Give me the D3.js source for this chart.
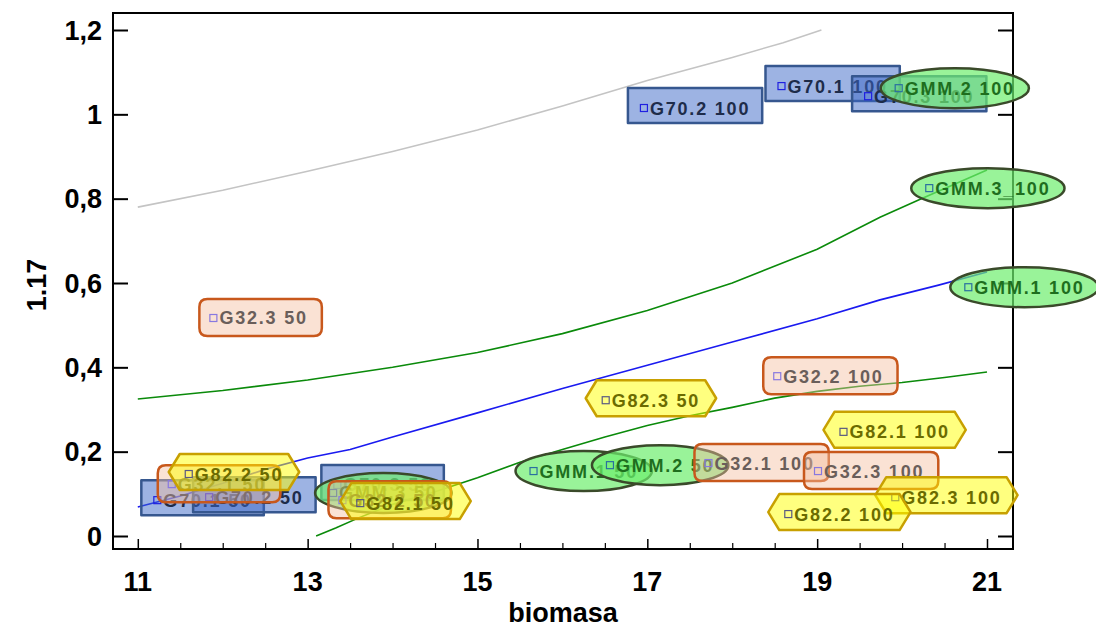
<!DOCTYPE html>
<html>
<head>
<meta charset="utf-8">
<script src="https://cdn.jsdelivr.net/npm/d3@7"></script>
<style>
body { margin: 0; background: #fff; }
svg { display: block; }
</style>
</head>
<body>
<div id="chart"></div>
<script>
"use strict";

// axis ticks
var xTicks = [11, 13, 15, 17, 19, 21];
var xMinor = [11.5, 12, 12.5, 13.5, 14, 14.5, 15.5, 16, 16.5, 17.5, 18, 18.5, 19.5, 20, 20.5];
var yTicks = [0, 0.2, 0.4, 0.6, 0.8, 1, 1.2];
var yTickLabels = ["0", "0,2", "0,4", "0,6", "0,8", "1", "1,2"];

// curves
var grayLine = [[11, 0.78], [12, 0.82], [13, 0.865], [14, 0.912], [15, 0.963], [16, 1.02],
                [17, 1.08], [18, 1.135], [18.6, 1.17], [19.05, 1.2]];
var greenUpper = [[11, 0.325], [12, 0.345], [13, 0.37], [14, 0.4], [15, 0.435], [16, 0.48],
                  [17, 0.535], [18, 0.6], [19, 0.68], [19.74, 0.756], [20.24, 0.801], [21, 0.868]];
var blueLine = [[11, 0.069], [11.5, 0.095], [12, 0.125], [12.5, 0.158], [13, 0.185], [13.5, 0.205],
                [14, 0.235], [15, 0.292], [16, 0.35], [17, 0.405], [18, 0.46], [19, 0.515],
                [19.74, 0.56], [20.43, 0.595], [21, 0.626]];
var greenLower = [[13.1, 0], [13.33, 0.019], [13.6, 0.043], [14, 0.075], [14.5, 0.105], [15, 0.138],
                  [15.5, 0.175], [16, 0.205], [16.5, 0.235], [17, 0.262], [17.5, 0.285], [18, 0.305],
                  [18.5, 0.327], [19, 0.343], [19.5, 0.355], [20, 0.364], [20.5, 0.376], [21, 0.389]];

// labelled points
var pointNames = ["G70.1 50", "G70.2 50", "G70.3 50", "G70.2 100", "G70.1 100", "G70.3 100",
                  "GMM.3 50", "GMM.1 50", "GMM.2 50", "GMM.2 100", "GMM.3_100", "GMM.1 100",
                  "G32.1 50", "G32.2 50", "G32.3 50", "G32.2 100", "G32.1 100", "G32.3 100",
                  "G82.2 50", "G82.1 50", "G82.3 50", "G82.1 100", "G82.3 100", "G82.2 100"];
var pointX = [11.23, 11.84, 13.35, 16.96, 18.58, 19.6,
              13.3, 15.66, 16.56, 19.96, 20.32, 20.78,
              11.4, 13.41, 11.89, 18.53, 17.72, 19.01,
              11.6, 13.62, 16.51, 19.31, 19.92, 18.66];
var pointY = [0.085, 0.092, 0.121, 1.015, 1.067, 1.043,
              0.102, 0.154, 0.168, 1.062, 0.825, 0.59,
              0.123, 0.085, 0.517, 0.379, 0.173, 0.154,
              0.147, 0.078, 0.322, 0.247, 0.092, 0.052];
var pointGroup = ["G70", "G70", "G70", "G70", "G70", "G70",
                  "GMM", "GMM", "GMM", "GMM", "GMM", "GMM",
                  "G32", "G32", "G32", "G32", "G32", "G32",
                  "G82", "G82", "G82", "G82", "G82", "G82"];

var width = 1096, height = 628;
var box = {left: 113, right: 1013, top: 13, bottom: 549};

var x = d3.scaleLinear().domain([11, 21]).range([137.8, 987]);
var y = d3.scaleLinear().domain([0, 1.2]).range([536, 30]);

var FONT = "'Liberation Sans', Arial, sans-serif";

var styles = {
    G70: {fill: "rgba(59,103,199,0.5)", stroke: "#36578f", text: "#1e2c4a", mark: "#2020e0"},
    GMM: {fill: "rgba(110,238,110,0.7)", stroke: "#3a4a2a", text: "#1e6e1e", mark: "#2a6fa0"},
    G32: {fill: "rgba(245,190,160,0.45)", stroke: "#c8581c", text: "#6a5e5a", mark: "#8878e0"},
    G82: {fill: "rgba(255,255,0,0.5)", stroke: "#c8a000", text: "#6b6b00", mark: "#5a5a80"}
};

var svg = d3.select("#chart").append("svg")
    .attr("width", width)
    .attr("height", height);

svg.append("rect").attr("width", width).attr("height", height).attr("fill", "#fff");

// curves
var line = d3.line().x(function(d){ return x(d[0]); }).y(function(d){ return y(d[1]); });
[[grayLine, "#c4c4c4"], [greenUpper, "#0a8a0a"], [blueLine, "#1a1af0"], [greenLower, "#0a8a0a"]]
    .forEach(function(c){
        svg.append("path").datum(c[0])
            .attr("d", line)
            .attr("fill", "none")
            .attr("stroke", c[1])
            .attr("stroke-width", 1.6);
    });

// frame
svg.append("rect")
    .attr("x", box.left).attr("y", box.top)
    .attr("width", box.right - box.left).attr("height", box.bottom - box.top)
    .attr("fill", "none").attr("stroke", "#000").attr("stroke-width", 2);

// y ticks (inside, both sides)
var yAxisL = d3.axisRight(y).tickValues(yTicks).tickSize(15).tickFormat("");
svg.append("g").attr("transform", "translate(" + box.left + ",0)").call(yAxisL)
    .call(function(g){ g.select(".domain").remove(); });
var yAxisR = d3.axisLeft(y).tickValues(yTicks).tickSize(15).tickFormat("");
svg.append("g").attr("transform", "translate(" + box.right + ",0)").call(yAxisR)
    .call(function(g){ g.select(".domain").remove(); });
svg.selectAll("g.tick line").attr("stroke-width", 2);

// y tick labels
svg.append("g").selectAll("text").data(yTicks).join("text")
    .attr("x", 102)
    .attr("y", function(d){ return y(d) + 9.5; })
    .attr("text-anchor", "end")
    .attr("font-family", FONT).attr("font-weight", "bold").attr("font-size", 27)
    .text(function(d, i){ return yTickLabels[i]; });

// x ticks (inside, bottom)
var xAxisMaj = d3.axisTop(x).tickValues(xTicks).tickSize(10).tickFormat("");
svg.append("g").attr("transform", "translate(0," + box.bottom + ")").call(xAxisMaj)
    .call(function(g){ g.select(".domain").remove(); g.selectAll("line").attr("stroke-width", 1.5); });
var xAxisMin = d3.axisTop(x).tickValues(xMinor).tickSize(6).tickFormat("");
svg.append("g").attr("transform", "translate(0," + box.bottom + ")").call(xAxisMin)
    .call(function(g){ g.select(".domain").remove(); g.selectAll("line").attr("stroke-width", 1.2); });

svg.append("g").selectAll("text").data(xTicks).join("text")
    .attr("x", function(d){ return x(d); })
    .attr("y", 591)
    .attr("text-anchor", "middle")
    .attr("font-family", FONT).attr("font-weight", "bold").attr("font-size", 27)
    .text(function(d){ return d; });

// axis titles
svg.append("text")
    .attr("x", 563).attr("y", 622)
    .attr("text-anchor", "middle")
    .attr("font-family", FONT).attr("font-weight", "bold").attr("font-size", 27)
    .text("biomasa");

svg.append("text")
    .attr("transform", "translate(46,285) rotate(-90)")
    .attr("text-anchor", "middle")
    .attr("font-family", FONT).attr("font-weight", "bold").attr("font-size", 27)
    .text("1.17");

// point labels
var points = pointNames.map(function(n, i){
    return {name: n, x: pointX[i], y: pointY[i], group: pointGroup[i]};
});

var lab = svg.append("g");
points.forEach(function(p){
    var st = styles[p.group];
    var px = x(p.x), py = y(p.y);
    var g = lab.append("g");
    var shape = g.append("path");
    var t = g.append("text")
        .attr("x", px + 6).attr("y", py + 6.5)
        .attr("font-family", FONT).attr("font-weight", "bold").attr("font-size", 18)
        .attr("letter-spacing", "1.8px")
        .attr("fill", st.text)
        .text(p.name);
    var w = t.node().getComputedTextLength();
    var d;
    if (p.group === "G70") {
        var l = px - 16, r = px + 8 + w + 10, tp = py - 20, bt = py + 15;
        d = "M" + l + "," + tp + "H" + r + "V" + bt + "H" + l + "Z";
    } else if (p.group === "G32") {
        var l2 = px - 14, r2 = px + 8 + w + 12, tp2 = py - 19, bt2 = py + 18, k = 8;
        d = "M" + (l2 + k) + "," + tp2 + "H" + (r2 - k) + "Q" + r2 + "," + tp2 + " " + r2 + "," + (tp2 + k) +
            "V" + (bt2 - k) + "Q" + r2 + "," + bt2 + " " + (r2 - k) + "," + bt2 +
            "H" + (l2 + k) + "Q" + l2 + "," + bt2 + " " + l2 + "," + (bt2 - k) +
            "V" + (tp2 + k) + "Q" + l2 + "," + tp2 + " " + (l2 + k) + "," + tp2 + "Z";
    } else if (p.group === "G82") {
        var l3 = px - 20, r3 = px + 8 + w + 14, tp3 = py - 20, bt3 = py + 16, s = 11, m = (tp3 + bt3) / 2;
        d = "M" + l3 + "," + m + "L" + (l3 + s) + "," + tp3 + "H" + (r3 - s) + "L" + r3 + "," + m +
            "L" + (r3 - s) + "," + bt3 + "H" + (l3 + s) + "Z";
    } else {
        var l4 = px - 18, r4 = px + 8 + w + 12, cx = (l4 + r4) / 2, rx = (r4 - l4) / 2, ry = 20, cy = py;
        d = "M" + l4 + "," + cy + "A" + rx + "," + ry + " 0 1,0 " + r4 + "," + cy +
            "A" + rx + "," + ry + " 0 1,0 " + l4 + "," + cy + "Z";
    }
    shape.attr("d", d)
        .attr("fill", st.fill)
        .attr("stroke", st.stroke)
        .attr("stroke-width", 2.5)
        .attr("stroke-linejoin", "round");
    g.append("rect")
        .attr("x", px - 3.5).attr("y", py - 3.5)
        .attr("width", 7).attr("height", 7)
        .attr("fill", "none")
        .attr("stroke", st.mark)
        .attr("stroke-width", 1.2);
    t.raise();
});
</script>
</body>
</html>
